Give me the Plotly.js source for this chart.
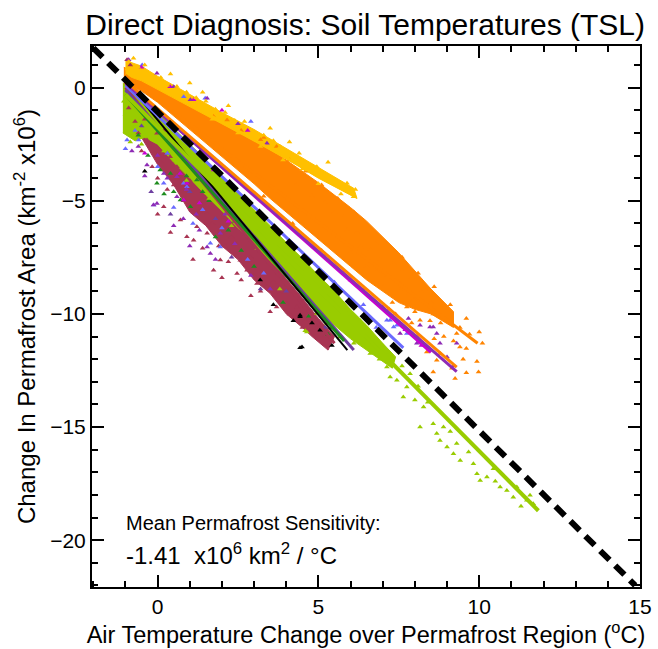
<!DOCTYPE html>
<html><head><meta charset="utf-8">
<script src="https://cdn.plot.ly/plotly-3.0.1.min.js"></script>
<style>html,body{margin:0;padding:0;background:#fff}</style>
</head><body><div id="chart" style="width:658px;height:649px"></div>
<script>
// ---- regression lines (start / end) ----
const goldLine    = [[-1.0, 0.85], [6.15, -4.8]];
const orangeLineA = [[-1.0, 0.55], [9.95, -11.3]];
const orangeLineB = [[-1.0, 0.3], [9.3, -12.35]];
const purpleLine  = [[-1.0, 0.2], [9.3, -12.55]];
const magentaLine = [[-1.0, 0.25], [8.5, -11.7]];
const blueLine    = [[-1.0, 0.1], [7.64, -11.5]];
const limeLine    = [[-1.0, -0.3], [11.84, -18.7]];
const greenLine   = [[-1.0, -0.3], [5.8, -11.2]];
const violetLine  = [[-1.0, -0.1], [6.1, -11.6]];
const maroonLine  = [[-1.0, 0.0], [5.5, -11.3]];
const blackLine   = [[-1.0, 0.3], [5.9, -11.6]];
const meanLine    = [[-2.0, 1.75], [14.85, -22.0]];

// ---- dense cores (outline of solid point clouds) ----
const orangeCore = [[-1.05,0.9],[-0.5,0.55],[0,0.15],[0.5,-0.25],[1,-0.6],[1.5,-1.0],[2,-1.45],[2.5,-1.85],[3,-2.35],[3.5,-2.75],[4,-3.2],[4.5,-3.7],[5,-4.2],[5.5,-4.75],[6,-5.3],[6.5,-5.9],[7,-6.6],[7.5,-7.3],[8,-8.1],[8.5,-8.9],[9.2,-9.9],
  [9.2,-10.6],[8.5,-10.0],[8,-9.8],[7.5,-9.5],[7,-9.0],[6.5,-8.5],[6,-7.9],[5.5,-7.3],[5,-6.7],[4.5,-6.1],[4,-5.5],[3.5,-4.9],[3,-4.25],[2.5,-3.65],[2,-3.05],[1.5,-2.45],[1,-1.85],[0.5,-1.25],[0,-0.65],[-0.5,-0.15],[-1.05,0.2]];
const goldCore = [[-1.0,1.2],[-0.5,0.95],[0,0.5],[1,-0.3],[2,-1.1],[3,-1.85],[4,-2.7],[5,-3.55],[6.1,-4.45],
  [6.2,-4.9],[5,-4.0],[4,-3.15],[3,-2.35],[2,-1.6],[1,-0.85],[0,-0.1],[-0.5,0.3],[-1.0,0.55]];
const limeCore = [[-1.08,0.2],[-0.7,-0.3],[-0.3,-0.75],[0,-1.05],[0.5,-1.8],[1,-2.5],[1.5,-3.2],[2,-3.95],[2.5,-4.65],[3,-5.4],[3.5,-6.1],[4,-6.85],[4.5,-7.55],[5,-8.3],[5.5,-9.0],[6,-9.8],[6.5,-10.5],[7.0,-11.3],[7.4,-11.9],
  [7.3,-12.4],[6.5,-11.6],[6,-11.1],[5.5,-10.5],[5,-9.8],[4.5,-9.1],[4,-8.35],[3.5,-7.65],[3,-6.9],[2.5,-6.2],[2,-5.45],[1.5,-4.75],[1,-4.0],[0.5,-3.3],[0,-2.5],[-0.4,-2.2],[-0.7,-2.35],[-1.08,-2.0]];
const maroonCore = [[-1.0,0.3],[-0.5,-0.55],[0,-1.4],[0.5,-2.3],[1,-3.2],[1.5,-4.1],[2,-4.95],[2.5,-5.8],[3,-6.7],[3.5,-7.55],[4,-8.45],[4.5,-9.3],[5,-10.2],[5.5,-11.0],
  [5.3,-11.6],[4.8,-11.0],[4.5,-10.6],[4,-10.0],[3.5,-9.1],[3,-8.5],[2.5,-7.6],[2,-7.0],[1.5,-6.1],[1,-5.5],[0.5,-4.3],[0,-3.4],[-0.5,-2.2],[-1.0,-0.8]];

// ---- scattered points ----
const goldPts = [[-0.9,1.15],[-0.75,1.3],[-0.6,0.9],[-0.4,1.0],[-0.2,0.55],[0.1,0.45],[0.3,0.1],[0.6,0.05],[0.9,-0.2],[1.2,-0.45],[1.5,-0.6],[1.8,-0.95],[2.1,-1.1],[2.4,-1.45],[2.7,-1.5],[3.0,-1.95],[3.3,-2.1],[3.6,-2.35],[3.81,-2.61],[4.2,-3.06],[4.4,-2.9],[4.64,-3.64],[4.95,-3.5],[5.2,-3.95],[5.5,-4.1],[5.89,-4.23],[6.09,-4.82],[5.7,-4.7],[5.0,-4.25],[4.5,-3.6],[3.9,-3.2],[3.2,-2.6],[2.5,-2.0],[1.7,-1.4],[6.15,-4.5],[0.4,0.6],[1.0,0.2],[1.4,-0.2],[2.2,-0.8],[3.5,-1.8],[4.1,-2.4],[5.3,-3.3]];
const orangePts = [[2.16,-1.43],[1.74,-1.28],[2.6,-1.9],[3.3,-2.2],[5.78,-5.71],[5.89,-6.3],[6.3,-7.04],[6.61,-7.18],[6.92,-7.62],[7.34,-7.77],[7.13,-8.36],[7.54,-8.95],[7.96,-9.4],[8.47,-10.3],[9.0,-10.3],[9.2,-11.2],[9.4,-11.46],[9.93,-12.1],[9.6,-12.6],[8.57,-10.0],[7.75,-9.7],[8.06,-11.0],[8.79,-11.75],[9.98,-12.57],[9.25,-12.85],[9.15,-12.4],[8.57,-12.57],[8.68,-12.05],[8.37,-11.68],[9.3,-10.87],[9.6,-11.53],[8.16,-10.28],[8.2,-9.0],[7.6,-8.1],[8.9,-9.8],[9.7,-10.9],[10.1,-11.3],[7.0,-8.8],[6.5,-7.9],[7.3,-9.5],[6.2,-6.4],[5.5,-5.5],[4.8,-4.8],[4.3,-4.3],[5.2,-5.1],[6.0,-7.3],[6.8,-6.9],[7.9,-8.4],[8.3,-8.9],[8.9,-11.0],[7.4,-10.0],[9.5,-12.0],
  [3.2,-2.3],[3.7,-2.6],[4.1,-3.2],[4.6,-3.7],[5.1,-4.3],[5.6,-4.9],[6.1,-5.5],[6.6,-6.2],[7.1,-6.9],[7.6,-7.5],[8.1,-8.2],[8.6,-8.8],[9.1,-9.6],[9.6,-10.2],[10.0,-10.8],
  [3.3,-4.8],[4.2,-6.0],[5.1,-7.2],[5.8,-8.1],[6.4,-8.9],[7.2,-9.8],[7.9,-10.4],[7.8,-9.1],[8.0,-9.9],[8.5,-9.5],[6.8,-8.1],[7.5,-8.6],[8.7,-9.3],[8.8,-10.4],[9.4,-10.6],[8.6,-11.1]];
const purplePts = [[8.16,-10.5],[8.47,-10.58],[8.68,-10.87],[8.78,-11.3],[9.3,-11.3],[8.1,-11.09],[7.54,-10.87],[8.57,-10.58],[8.06,-11.3],[9.0,-11.9],[9.2,-12.3],[8.4,-11.5],[7.8,-10.2],[-0.02,0.64],[0.5,0.04],[1.02,-0.54],[1.54,-0.47],[3.4,-2.46],[-0.9,1.23],[2.5,-1.6],[-0.33,-3.42],[0.19,-3.79],[0.6,-4.82],[1.54,-7.04],[1.64,-7.33],[1.95,-6.44],[0.6,-3.94],[-0.02,-5.12],[-0.13,-5.19],[1.2,-5.6],[2.4,-6.9],[2.9,-8.3],[3.5,-8.9],[-0.6,-2.6],[0.9,-4.5],
  [0.0,-3.0],[0.3,-4.0],[0.8,-5.8],[1.3,-6.3],[1.8,-7.6],[2.1,-5.6],[-0.4,-3.9],[-0.8,-2.8],[0.5,-6.1],[1.0,-7.0]];
const magentaPts = [[0.39,0.04],[1.12,-0.54],[-0.5,0.9],[2.0,-1.0],[2.8,-1.9],[0.7,-3.79],[1.12,-3.5],[0.81,-4.97],[1.74,-3.64],[0.91,-4.23],[1.3,-5.1],[2.2,-5.9],[-0.4,-2.9],[6.0,-8.5],[7.0,-9.7],[7.7,-10.7],[8.2,-11.4],[5.2,-7.4]];
const bluePts = [[-0.95,-2.31],[-0.59,-2.31],[0.19,-4.23],[0.81,-4.23],[0.91,-4.38],[-0.12,-5.19],[2.36,-5.71],[1.95,-7.04],[0.81,-0.4],[1.48,-0.47],[-0.48,1.0],[1.64,-6.88],[7.13,-10.28],[7.34,-10.58],[7.75,-10.87],[7.44,-10.5],[7.23,-10.28],[2.9,-1.5],[0.3,-2.9],[1.1,-6.0],[2.8,-7.6],[3.3,-8.2],[5.5,-8.6],[6.4,-9.6],[6.8,-10.6],
  [-0.7,-1.9],[0.0,-3.5],[0.5,-5.3],[1.4,-5.4],[2.0,-6.2],[-1.0,-2.7]];
const limePts = [[6.61,-11.75],[6.92,-11.97],[7.13,-12.35],[7.23,-12.79],[7.44,-12.93],[7.75,-13.23],[7.64,-13.67],[8.27,-14.11],[8.16,-15.0],[8.57,-14.85],[8.68,-15.29],[8.78,-15.59],[9.0,-15.88],[9.2,-16.18],[9.3,-15.73],[9.41,-16.48],[9.82,-16.62],[9.93,-17.06],[10.03,-17.36],[10.24,-17.21],[10.65,-17.65],[10.86,-17.8],[11.06,-18.1],[11.48,-18.24],[11.58,-18.02],[11.68,-18.39],[11.17,-17.65],[10.44,-16.84],[9.67,-16.1],[8.89,-15.0],[7.85,-12.64],[7.13,-11.68],[4.64,-10.8],[4.95,-9.98],[5.26,-10.42],[5.68,-11.02],[4.59,-10.75],[8.0,-13.8],[8.4,-13.9],[9.1,-15.2],[10.5,-17.4],[11.3,-18.5],[6.3,-10.3],[5.9,-10.0],[3.8,-8.9],[-1.05,-0.6],[-1.0,-1.2],[-0.95,-1.7],[-0.8,-2.0],[-0.6,-1.8],[-0.4,-2.1],
  [-0.85,-2.4],[-0.5,-2.5],[0.2,-2.8],[0.9,-4.1],[1.6,-4.9],[2.3,-6.1],[3.1,-7.1],[4.2,-8.6],[5.3,-9.9],[6.1,-11.3],[6.9,-12.0],[7.0,-11.4],[7.6,-12.3],[8.1,-13.2]];
const greenPts = [[0.71,-4.97],[1.02,-5.27],[0.08,-3.64],[0.4,-3.79],[1.22,-4.08],[-0.02,-4.23],[0.5,-4.6],[1.6,-5.0],[2.2,-6.3],[2.6,-7.2],[3.0,-7.9],[-0.6,-2.1],[-0.3,-3.0],[3.9,-9.5],[4.7,-10.1],[5.3,-10.9],
  [0.2,-4.7],[0.9,-3.9],[1.4,-4.6],[1.8,-6.6],[2.4,-5.9]];
const maroonPts = [[-0.95,1.23],[-0.85,1.0],[-0.33,-2.31],[-0.17,-3.5],[-0.02,-2.02],[0.39,-3.05],[0.19,-5.27],[0.71,-5.85],[1.22,-6.15],[0.91,-6.59],[1.54,-6.44],[1.12,-6.74],[1.74,-8.07],[1.95,-7.62],[2.47,-8.21],[2.78,-8.07],[1.54,-5.56],[1.95,-6.3],[2.57,-7.63],[3.09,-8.66],[3.4,-8.8],[3.81,-9.1],[4.02,-9.54],[4.33,-9.69],[4.75,-9.84],[0.0,-4.0],[0.5,-4.3],[-0.5,-2.8],[1.0,-5.2],[2.1,-7.0],[3.0,-8.3],[4.5,-10.6],[5.0,-10.5],[-0.7,-1.5],[0.2,-1.9],
  [-0.9,-0.9],[-0.6,-2.0],[-0.4,-1.4],[-0.1,-2.9],[0.1,-3.3],[0.3,-4.5],[0.6,-3.5],[0.8,-5.0],[1.0,-4.1],[1.3,-5.5],[1.4,-7.1],[1.7,-6.0],[1.9,-7.0],[2.2,-7.7],[2.3,-6.6],[2.6,-8.5],[2.9,-7.5],[3.2,-9.0],[3.6,-8.6],[3.7,-9.7],[4.1,-10.0],[4.6,-10.3],[5.2,-11.0],[5.4,-10.6],
  [0.4,-6.4],[1.1,-7.6],[2.0,-8.4],[2.9,-9.2],[3.5,-9.9],[0.0,-5.6]];
const violetPts = [[-0.5,-1.7],[0.3,-2.9],[1.0,-4.6],[1.8,-5.8],[2.3,-7.5],[3.2,-8.9],[0.4,-5.6],[-0.2,-4.6],[4.0,-9.0],[5.2,-10.6]];
const blackPts = [[4.22,-10.3],[4.43,-10.06],[4.8,-10.4],[5.06,-10.7],[5.42,-11.4],[4.43,-11.5],[3.19,-8.5],[4.49,-11.46],[4.43,-10.13],[5.06,-10.72],[3.6,-9.6],[-0.4,-3.7]];

// ---- tick labels ----
const xTicks = [0, 5, 10, 15];
const yTicks = [0, -5, -10, -15, -20];

const C = {
  gold:'#FFC000', orange:'#FF8400', purple:'#8E2BB5', magenta:'#C800D2', blue:'#6A6AFF',
  lime:'#99CC00', green:'#1E8C1E', violet:'#6E3FA0', maroon:'#A83452', black:'#000000'
};
const xs = a => a.map(p => p[0]);
const ys = a => a.map(p => p[1]);

const traces = [];
function core(a, col){ traces.push({x:xs(a), y:ys(a), mode:'lines', fill:'toself', fillcolor:col, line:{width:1, color:col}, hoverinfo:'skip', showlegend:false}); }
function pts(a, col){ traces.push({x:xs(a), y:ys(a), mode:'markers', marker:{symbol:'triangle-up', size:5, color:col}, showlegend:false}); }
function line(a, col, w){ traces.push({x:xs(a), y:ys(a), mode:'lines', line:{color:col, width:w||3}, showlegend:false}); }

core(maroonCore, C.maroon);
core(limeCore, C.lime);
core(orangeCore, C.orange);
core(goldCore, C.gold);
pts(maroonPts, C.maroon); pts(violetPts, C.violet); pts(greenPts, C.green); pts(bluePts, C.blue);
pts(magentaPts, C.magenta); pts(purplePts, C.purple); pts(limePts, C.lime); pts(orangePts, C.orange);
pts(goldPts, C.gold); pts(blackPts, C.black);
line(maroonLine, C.maroon); line(violetLine, C.violet); line(greenLine, C.green); line(blackLine, C.black, 2);
line(limeLine, C.lime, 4); line(blueLine, C.blue); line(magentaLine, C.magenta); line(purpleLine, C.purple);
line(orangeLineB, C.orange); line(orangeLineA, C.orange); line(goldLine, C.gold);
// mean sensitivity line on the mirror (top/right) axes, same ranges
traces.push({x:xs(meanLine), y:ys(meanLine), xaxis:'x2', yaxis:'y2', mode:'lines', line:{color:'#000', width:6, dash:'13px,8px'}, showlegend:false});

const F = '"Liberation Sans", Arial, Helvetica, sans-serif';
const xRange = [-2.04, 15], yRange = [-22.07, 1.84];
const axisCommon = {
  ticks:'inside', ticklen:12, tickwidth:2, tickcolor:'#000',
  showline:true, linewidth:2, linecolor:'#000', mirror:false,
  showgrid:false, zeroline:false,
  minor:{dtick:1, ticks:'inside', ticklen:6, tickwidth:2, tickcolor:'#000', showgrid:false},
  tickfont:{family:F, size:21, color:'#000'}
};
const layout = {
  width:658, height:649,
  margin:{l:92, r:18, t:46, b:62},
  paper_bgcolor:'#fff', plot_bgcolor:'#fff',
  font:{family:F, color:'#000'},
  showlegend:false,
  title:{text:'Direct Diagnosis: Soil Temperatures (TSL)', font:{family:F, size:30, color:'#000'}, x:0.555, xanchor:'center', y:0.963, yanchor:'middle'},
  xaxis:Object.assign({}, axisCommon, {range:xRange, tickvals:xTicks, ticktext:xTicks.map(String),
    title:{text:'Air Temperature Change over Permafrost Region (<sup>o</sup>C)', font:{family:F, size:23.5, color:'#000'}, standoff:4}}),
  yaxis:Object.assign({}, axisCommon, {range:yRange, tickvals:yTicks, ticktext:yTicks.map(v => v===0 ? '0' : '\u2212' + Math.abs(v)),
    title:{text:'Change In Permafrost Area (km<sup>-2</sup> x10<sup>6</sup>)', font:{family:F, size:24, color:'#000'}, standoff:8}}),
  xaxis2:Object.assign({}, axisCommon, {range:xRange, tickvals:xTicks, overlaying:'x', side:'top', anchor:'y2', showticklabels:false}),
  yaxis2:Object.assign({}, axisCommon, {range:yRange, tickvals:yTicks, overlaying:'y', side:'right', anchor:'x2', showticklabels:false}),
  annotations:[
    {x:-1.05, y:-19.25, xref:'x', yref:'y', xanchor:'left', yanchor:'middle', showarrow:false,
     text:'Mean Permafrost Sensitivity:', font:{family:F, size:20, color:'#000'}},
    {x:-1.05, y:-20.6, xref:'x', yref:'y', xanchor:'left', yanchor:'middle', showarrow:false,
     text:'-1.41  x10<sup>6</sup> km<sup>2</sup> / \u00B0C', font:{family:F, size:24, color:'#000'}}
  ]
};
Plotly.newPlot('chart', traces, layout, {staticPlot:true, displayModeBar:false});
</script></body></html>
